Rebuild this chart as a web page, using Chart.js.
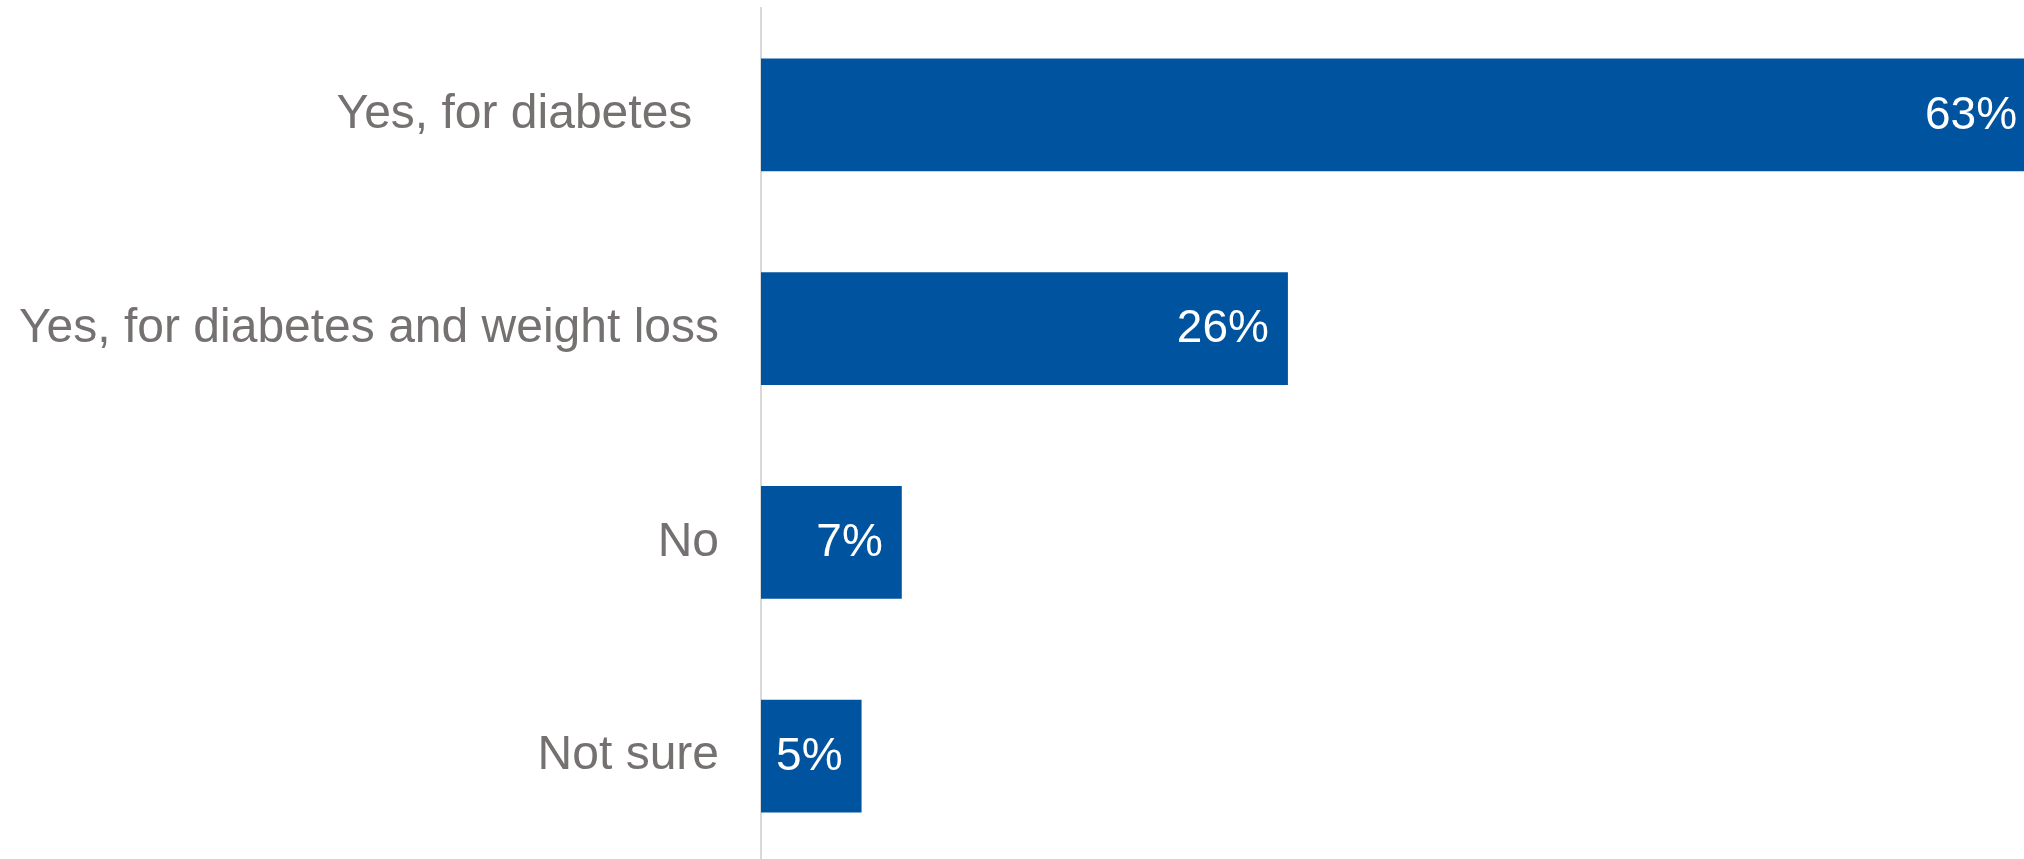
<!DOCTYPE html>
<html>
<head>
<meta charset="utf-8">
<script src="https://cdn.jsdelivr.net/npm/chart.js@4/dist/chart.umd.min.js"></script>
<style>
  html, body { margin: 0; padding: 0; background: #ffffff; overflow: hidden; }
  #wrap { position: relative; width: 2024px; height: 863px; }
</style>
</head>
<body>
<div id="wrap"><canvas id="chart"></canvas></div>
<script>
// categories (the first one carries trailing spaces like the original)
const categories = ['Yes, for diabetes  ', 'Yes, for diabetes and weight loss', 'No', 'Not sure'];
// share of respondents, %
const shares = [63.4, 26.2, 7.0, 5.0];
// value labels shown on the bars
const valueLabels = ['63%', '26%', '7%', '5%'];

const FONT = '"Liberation Sans", Arial, sans-serif';

// draw the % labels inside the end of each bar
const barLabels = {
  id: 'barLabels',
  afterDatasetsDraw(chart) {
    const ctx = chart.ctx;
    const meta = chart.getDatasetMeta(0);
    ctx.save();
    ctx.font = '46px ' + FONT;
    ctx.fillStyle = '#ffffff';
    ctx.textAlign = 'right';
    ctx.textBaseline = 'middle';
    meta.data.forEach((bar, i) => {
      ctx.fillText(valueLabels[i], bar.x - 19, bar.y + 1);
    });
    ctx.restore();
  }
};

new Chart(document.getElementById('chart'), {
  type: 'bar',
  data: {
    labels: categories,
    datasets: [{
      data: shares,
      backgroundColor: '#00549f',
      borderWidth: 0,
      barPercentage: 0.527,
      categoryPercentage: 1.0
    }]
  },
  options: {
    indexAxis: 'y',
    responsive: true,
    maintainAspectRatio: false,
    animation: false,
    layout: { padding: { top: 8, left: 0, right: 0, bottom: 0 } },
    scales: {
      x: {
        display: false,
        min: 0,
        max: 62.8
      },
      y: {
        grid: { display: false, drawTicks: false },
        border: { display: true, color: '#d9d9d9', width: 2 },
        ticks: {
          color: '#767171',
          font: { family: FONT, size: 48 },
          padding: 42
        },
        afterFit(scale) {
          // fixed axis width, no extra room above/below for the labels
          scale.width = 761;
          scale.paddingTop = 0;
          scale.paddingBottom = 0;
        }
      }
    },
    plugins: {
      legend: { display: false },
      tooltip: { enabled: false }
    }
  },
  plugins: [barLabels]
});
</script>
</body>
</html>
